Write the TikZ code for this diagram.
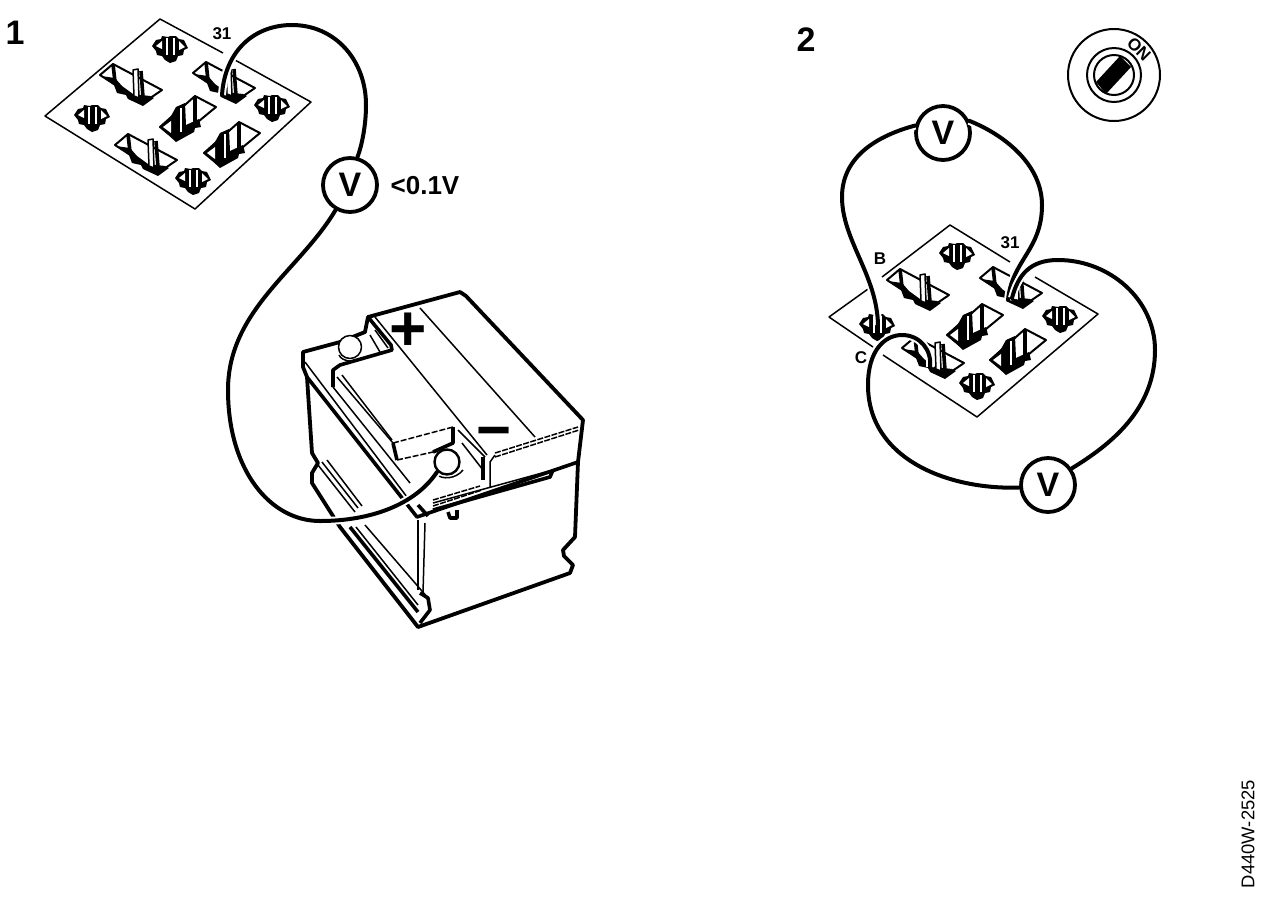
\documentclass[tikz,border=0pt]{standalone}
\usepackage{fontspec}
\setmainfont{Liberation Sans}
\tikzset{
	thinline/.style={line width=0.75pt, line join=round},
	heavyline/.style={line width=1.8pt, line join=round},
	wire/.style={line width=2pt, line cap=round, preaction={draw=white, line width=4pt}},
	meter/.style={circle, draw, fill=white, line width=1.9pt, minimum size=27pt, inner sep=0pt, font=\fontsize{17}{17}\selectfont\bfseries},
	figlabel/.style={inner sep=0pt, font=\fontsize{17}{17}\selectfont\bfseries},
	pinlabel/.style={inner sep=0pt, font=\fontsize{8.5}{9}\selectfont\bfseries},
	smallpin/.pic={
		\fill (-18,-2) -- (-14,-8) -- (-9,-9) -- (-8,-12) -- (-2,-11) -- (0,-12) -- (6,-12) -- (9,-9) -- (14,-8) -- (18,0) -- (14,2) -- (13,7) -- (8,8) -- (6,13) -- (0,15) -- (-5,12) -- (-8,8) -- (-13,7) -- (-14,3) -- cycle;
		\fill[white] (-14,-2) -- (-8,-7) -- (-8,1) -- cycle;
		\fill[white] (9,-7) -- (15,-1) -- (9,2) -- cycle;
		\draw[white, line width=0.8pt] (-3,-10) -- (-3,7);
		\draw[white, line width=0.8pt] (4,-10) -- (4,7);
	},
	longpin/.pic={
		\draw[line width=1pt, line join=round, fill=white] (-30,-7) -- (-17,-18) -- (32,8) -- (13,21) -- cycle;
		\fill (-29,-6) -- (-15,-4) -- (-8,4) -- (3,12) -- (20,14) -- (24,16) -- (13,24) -- (-2,17) -- (-4,13) -- (-13,11) -- (-16,3) -- cycle;
		\draw[heavyline] (-17,-18) -- (-15,0);
		\draw[thinline, fill=white] (3,-12) -- (8,-13) -- (9,16) -- (4,14) -- cycle;
		\draw[heavyline] (11,-11) -- (13,15);
	},
	widepin/.pic={
		\draw[line width=1pt, line join=round, fill=white] (7,-21) -- (28,-10) -- (-12,23) -- (-28,10) -- cycle;
		\fill (-28,10) -- (-17,-1) -- (-12,-10) -- (-3,-14) -- (-2,8) -- (11,2) -- (13,10) -- (7,11) -- (6,15) -- (-12,25) -- cycle;
		\draw[white, line width=1pt] (-7,-9) -- (-7,15);
		\draw[heavyline] (7,-21) -- (7,5);
		\fill[white] (-25,10) -- (-17,4) -- (-17,16) -- cycle;
	}
}

\begin{document}
\begin{tikzpicture}[x=0.5pt, y=-0.5pt]
	%%%%% START %%%%%
	\useasboundingbox (0,0) rectangle (1280,896);

	\node[figlabel] (figone) at (15,33) {1};
	\node[figlabel] (figtwo) at (806,40) {2};

	% socket on the left
	\draw[thinline] (223,53) -- (160,19) -- (45,116) -- (195,209) -- (311,102) -- (235,60);
	\pic at (170,48) {smallpin};
	\pic at (92,117) {smallpin};
	\pic at (272,107) {smallpin};
	\pic at (193,180) {smallpin};
	\pic at (130,82) {longpin};
	\pic at (223,80) {longpin};
	\pic at (145,152) {longpin};
	\pic at (188,117) {widepin};
	\pic at (232,143) {widepin};
	\node[pinlabel] (lblone) at (222,34) {31};

	% battery
	\draw[line width=1.9pt, line join=round, fill=white] (303,352) -- (340,342) -- (365,332) -- (368,317) -- (460,292) -- (466,296) -- (583,420) -- (578,462) -- (575,537) -- (563,550) -- (564,556) -- (573,565) -- (570,573) -- (418,627) -- (340,527) -- (312,483) -- (312,473) -- (318,463) -- (312,453) -- (307,377) -- (303,367) -- cycle;
	\draw[heavyline] (307,377) -- (417,517) -- (578,462);
	\draw[thinline] (375,317) -- (487,455);
	\draw[thinline] (420,308) -- (535,437);
	\draw[heavyline] (368,317) -- (391,345) -- (392,350) -- (340,365) -- (333,370) -- (333,387);
	\draw[thinline] (370,335) -- (380,352);
	\draw[thinline] (375,330) -- (388,348);
	\draw[thinline] (305,362) -- (407,497);
	\draw[thinline] (333,387) -- (410,483);
	\draw[thinline] (337,377) -- (393,443);
	\draw[thinline] (342,375) -- (392,440);
	\draw[heavyline] (393,443) -- (397,460);
	\draw[thinline, dash pattern=on 3pt off 1pt] (393,443) -- (453,427);
	\draw[thinline, dash pattern=on 3pt off 1pt] (397,460) -- (433,452);
	\draw[heavyline] (453,427) -- (453,443) -- (433,452);
	\draw[thinline] (458,430) -- (485,457);
	\draw[thinline] (462,443) -- (483,470);
	\draw[heavyline] (483,457) -- (483,480);
	\draw[thinline] (490,487) -- (490,462) -- (495,455);
	\draw[thinline, dash pattern=on 3pt off 0.7pt] (495,453) -- (578,427);
	\draw[thinline, dash pattern=on 3pt off 0.7pt] (495,457) -- (579,430);
	\draw[thinline, dash pattern=on 3pt off 0.7pt] (433,500) -- (480,486);
	\draw[thinline, dash pattern=on 3pt off 0.7pt] (433,506) -- (482,490);
	\draw[heavyline] (433,510) -- (550,477) -- (553,470);
	\draw[thinline] (553,470) -- (433,503);
	\draw[heavyline] (418,505) -- (428,516);
	\draw[heavyline] (448,512) -- (450,518) -- (457,518) -- (457,510);
	\draw[thinline] (418,520) -- (418,590);
	\draw[thinline] (425,523) -- (423,593);
	\draw[heavyline] (420,593) -- (428,598) -- (430,610) -- (420,623);
	\draw[thinline] (318,465) -- (355,512);
	\draw[thinline] (322,462) -- (358,508);
	\draw[thinline] (327,460) -- (362,506);
	\draw[heavyline] (350,527) -- (418,612);
	\draw[thinline] (356,527) -- (418,605);
	\draw[thinline] (365,525) -- (428,598);
	\draw[thinline, fill=white] (350,347) circle (11.5);
	\draw[thinline] (339,355) .. controls (342,362) and (356,363) .. (362,358);
	\draw[line width=1.2pt, fill=white] (447,462) circle (12.5);
	\draw[thinline] (436,474) .. controls (442,480) and (456,479) .. (463,470);
	\node[inner sep=0pt, font=\fontsize{32}{32}\selectfont\bfseries] (plus) at (408,332) {+};
	\node[inner sep=0pt, font=\fontsize{30}{30}\selectfont\bfseries] (minus) at (494,439) {−};

	% meter and wire on the left
	\node[meter] (vone) at (350,185) {V};
	\node[inner sep=0pt, font=\fontsize{13}{13}\selectfont\bfseries] (reading) at (425,186) {<0.1V};
	\coordinate (pinone) at (222,95);
	\coordinate (post) at (437,472);
	\draw[wire] (pinone) .. controls (225,50) and (255,25) .. (292,25) .. controls (335,25) and (366,60) .. (366,105) .. controls (366,125) and (362,145) .. (vone.75);
	\draw[wire] (vone.240) .. controls (300,270) and (228,310) .. (228,390) .. controls (228,470) and (270,521) .. (320,521) .. controls (370,521) and (415,505) .. (post);

	% socket on the right
	\draw[thinline] (1010,262) -- (950,225) -- (882,277);
	\draw[thinline] (868,289) -- (829,317) -- (873,347);
	\draw[thinline] (883,355) -- (977,417) -- (1098,314) -- (1035,277);
	\pic at (957,255) {smallpin};
	\pic at (877,326) {smallpin};
	\pic at (1060,318) {smallpin};
	\pic at (977,385) {smallpin};
	\pic at (917,287) {longpin};
	\pic at (1010,285) {longpin};
	\pic at (932,355) {longpin};
	\pic at (975,325) {widepin};
	\pic at (1018,350) {widepin};
	\node[pinlabel] (lbltwo) at (1010,243) {31};
	\node[pinlabel] (lblb) at (880,259) {B};
	\node[pinlabel] (lblc) at (861,358) {C};

	% meters and wires on the right
	\node[meter] (vtop) at (943,133) {V};
	\node[meter] (vlow) at (1048,485) {V};
	\coordinate (pinb) at (878,325);
	\coordinate (pinc) at (930,367);
	\coordinate (pinthree) at (1008,300);
	\coordinate (pinfour) at (1012,298);
	\draw[wire] (pinb) .. controls (877,275) and (842,240) .. (842,197) .. controls (842,155) and (880,135) .. (vtop.165);
	\draw[wire] (vtop.25) .. controls (1005,135) and (1042,165) .. (1042,205) .. controls (1042,250) and (1012,260) .. (pinthree);
	\draw[wire] (pinfour) .. controls (1018,275) and (1030,260) .. (1058,260) .. controls (1110,260) and (1155,300) .. (1155,350) .. controls (1155,410) and (1110,445) .. (vlow.35);
	\draw[wire] (vlow.185) .. controls (950,490) and (868,460) .. (868,385) .. controls (868,350) and (885,335) .. (902,335) .. controls (920,335) and (932,350) .. (pinc);

	% ignition switch
	\draw[line width=1pt] (1114,75) circle (46);
	\draw[line width=1pt] (1114,75) circle (27);
	\draw[line width=1pt] (1114,75) circle (20);
	\fill (1096,82) -- (1120,56) -- (1131,67) -- (1106,94) -- cycle;
	\node[inner sep=0pt, rotate=-45, font=\fontsize{8.5}{9}\selectfont\bfseries, fill=white] (swon) at (1139,49) {ON};

	\node[inner sep=0pt, rotate=90, font=\fontsize{9.2}{10}\selectfont] (refcode) at (1248,834) {D440W-2525};
	%%%%% END %%%%%
\end{tikzpicture}
\end{document}
